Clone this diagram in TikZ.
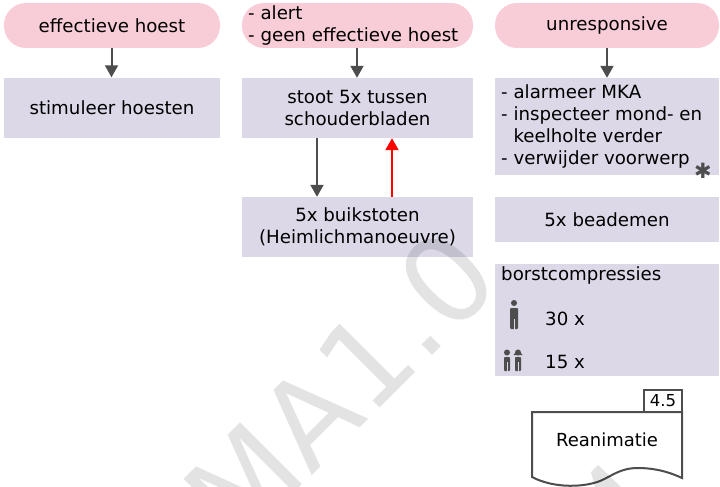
\documentclass[tikz,border=0pt]{standalone}
\usepackage{fontspec}
\setmainfont{DejaVu Sans}
\definecolor{pk}{RGB}{249, 205, 216}
\definecolor{lv}{RGB}{220, 216, 231}
\definecolor{dg}{RGB}{77, 77, 77}
\usetikzlibrary{arrows.meta}
\tikzset{
  startbox/.style={rectangle, rounded corners=22pt, fill=pk, inner sep=0pt, font=\fontsize{18.2pt}{22pt}\selectfont},
  stepbox/.style={rectangle, fill=lv, inner sep=0pt, align=center, font=\fontsize{18.2pt}{22pt}\selectfont},
  lab/.style={inner sep=0pt, align=left, font=\fontsize{18.2pt}{22pt}\selectfont},
  arr/.style={line width=2pt, color=dg, -{Triangle[length=12pt, width=13pt]}},
  figure/.style={fill=dg, draw=none}
}
\begin{document}
\begin{tikzpicture}[x=1pt, y=-1pt]
\useasboundingbox (0,0) rectangle (720,487);
\node (p1) [startbox, minimum width=216pt, minimum height=45pt] at (112, 25.5) {effectieve hoest};
\node (p2) [startbox, minimum width=231pt, minimum height=45pt] at (357.5, 25.5) {};
\node (p3) [startbox, minimum width=224pt, minimum height=45pt] at (607, 25.5) {unresponsive};
\node (b1) [stepbox, minimum width=216pt, minimum height=60pt] at (112, 107.5) {stimuleer hoesten};
\node (b2) [stepbox, minimum width=231pt, minimum height=60pt] at (357.5, 108) {stoot 5x tussen\\schouderbladen};
\node (b3) [stepbox, minimum width=231pt, minimum height=60pt] at (357.5, 227) {5x buikstoten\\(Heimlichmanoeuvre)};
\node (b4) [stepbox, minimum width=224pt, minimum height=97pt] at (607, 126.5) {};
\node (b5) [stepbox, minimum width=224pt, minimum height=45pt] at (607, 219.5) {5x beademen};
\node (b6) [stepbox, minimum width=224pt, minimum height=112pt] at (607, 320) {};
% teksten links uitgelijnd
\node (t2) [lab, anchor=west] at (248, 25.5) {- alert\\- geen effectieve hoest};
\node (t4) [lab, anchor=west] at (501, 126) {- alarmeer MKA\\- inspecteer mond- en\\\phantom{- }keelholte verder\\- verwijder voorwerp};
\node (t6) [lab, anchor=west] at (501, 275) {borstcompressies};
\node (t7) [lab, anchor=west] at (545, 319) {30 x};
\node (t8) [lab, anchor=west] at (545, 362) {15 x};
\node (star) [inner sep=0pt, text=dg, font=\fontsize{21pt}{21pt}\selectfont] at (703, 171) {✱};
% poppetjes
\fill [figure] (514, 303) circle (3pt);
\fill [figure, rounded corners=1pt] (510, 308) rectangle (518, 329);
\fill [lv] (513.7, 319) rectangle (514.3, 329.5);
\fill [figure] (507, 352.5) circle (3pt);
\fill [figure, rounded corners=0.8pt] (504, 357) rectangle (510, 371);
\fill [lv] (506.7, 362) rectangle (507.3, 371.5);
\fill [figure] (518, 352.5) circle (3pt);
\fill [figure] (513.5, 355) -- (518, 349.5) -- (522.5, 355) -- cycle;
\fill [figure, rounded corners=0.8pt] (515, 357) rectangle (521, 371);
\fill [lv] (517.7, 362) rectangle (518.3, 371.5);
% pijlen
\draw [arr] ([xshift=-0.5pt]p1.south) to ([xshift=-0.5pt]b1.north);
\draw [arr] ([xshift=-0.5pt]p2.south) to ([xshift=-0.5pt]b2.north);
\draw [arr] (p3.south) to (b4.north);
\draw [arr] ([xshift=-40.5pt]b2.south) to ([xshift=-40.5pt]b3.north);
\draw [arr, color=red] ([xshift=34.5pt]b3.north) to ([xshift=34.5pt]b2.south);
% document
\node (doc) [inner sep=0pt, text=black, font=\fontsize{18pt}{22pt}\selectfont] at (607, 440) {Reanimatie};
\coordinate (d3) at (532, 412);
\coordinate (d4) at (682, 412);
\draw [line width=2pt, color=dg] (d3) -- (d4) -- (682, 478) .. controls (665, 470) and (650, 468) .. (638, 468) .. controls (620, 468) and (612, 476) .. (600, 481) .. controls (585, 487) and (555, 489) .. (532, 477) -- cycle;
\node (tab) [draw=dg, line width=2pt, inner sep=0pt, minimum width=38pt, minimum height=22pt, font=\fontsize{16.5pt}{18pt}\selectfont] at (663, 401) {4.5};
% watermerk
\begin{scope}
\clip (0,0) rectangle (720,487);
\node (wm) [rotate=45, inner sep=0pt, text=black, text opacity=0.11, font=\fontsize{120pt}{120pt}\selectfont] at (340, 386) {MA1.0};
\fill [black, fill opacity=0.11] (598, 465) -- (621, 487) -- (595, 487) -- (591, 472) -- cycle;
\end{scope}
\end{tikzpicture}
\end{document}
